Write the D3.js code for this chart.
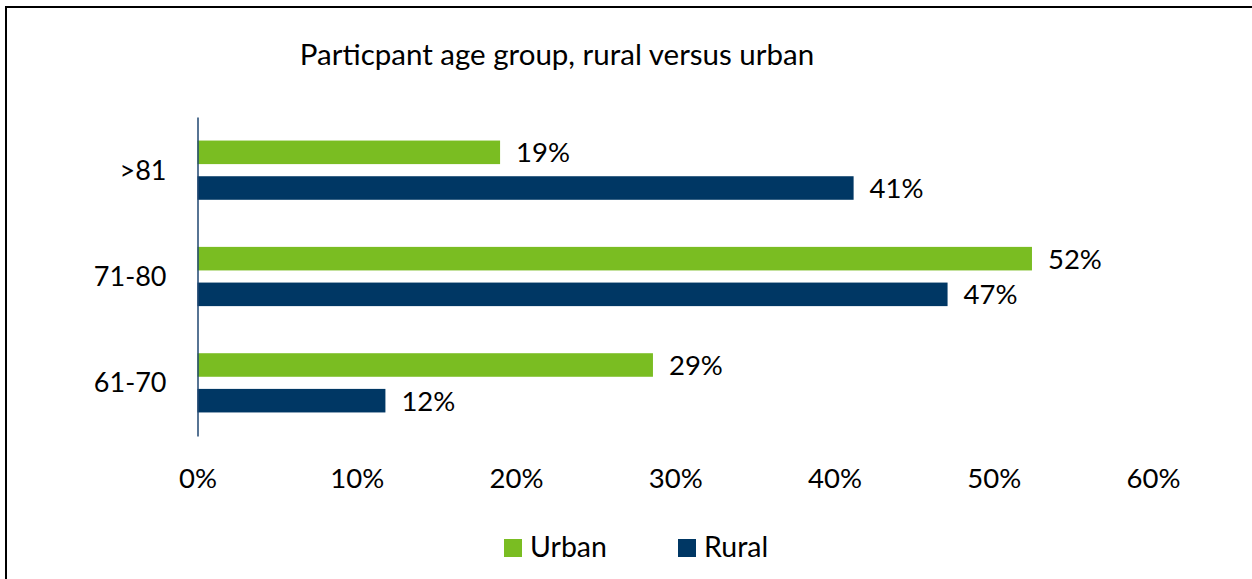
<!DOCTYPE html>
<html>
<head>
<meta charset="utf-8">
<script src="https://cdn.jsdelivr.net/npm/d3@7"></script>
<style>
  html, body { margin: 0; padding: 0; background: #fff; }
  svg { display: block; font-family: Lato, "Open Sans", sans-serif; }
</style>
</head>
<body>
<svg id="chart" width="1252" height="579"></svg>
<script>
const title = "Particpant age group, rural versus urban";
const categories = [">81", "71-80", "61-70"];
const seriesNames = ["Urban", "Rural"];
const urbanValues = [19.0, 52.4, 28.6];
const ruralValues = [41.2, 47.1, 11.8];
const xTicks = [0, 10, 20, 30, 40, 50, 60];
const colors = { Urban: "#7abd22", Rural: "#003764" };

const svg = d3.select("#chart");
const W = 1252, H = 579;

svg.append("rect").attr("width", W).attr("height", H).attr("fill", "#fff");
svg.append("rect").attr("x", 6).attr("y", 7).attr("width", 1300).attr("height", 700)
  .attr("fill", "none").attr("stroke", "#000").attr("stroke-width", 2);

const x = d3.scaleLinear().domain([0, 60]).range([197.5, 1153]);
const y = d3.scaleBand().domain(categories).range([117, 436]).paddingInner(0).paddingOuter(0);
const y1 = d3.scaleBand().domain(seriesNames).range([0, y.bandwidth()]).paddingInner(0.34).paddingOuter(0.66);

const data = categories.map((c, i) => ({
  cat: c,
  values: [
    { series: "Urban", value: urbanValues[i] },
    { series: "Rural", value: ruralValues[i] }
  ]
}));

// Title
svg.append("text").attr("x", 557).attr("y", 65)
  .attr("text-anchor", "middle").attr("font-size", 29.5).attr("fill", "#000")
  .text(title);

// Bars
const groups = svg.append("g").selectAll("g").data(data).join("g")
  .attr("transform", d => `translate(0,${y(d.cat)})`);

groups.selectAll("rect").data(d => d.values).join("rect")
  .attr("x", x(0))
  .attr("y", d => y1(d.series))
  .attr("width", d => x(d.value) - x(0))
  .attr("height", y1.bandwidth())
  .attr("fill", d => colors[d.series]);

groups.selectAll("text").data(d => d.values).join("text")
  .attr("x", d => x(d.value) + 16)
  .attr("y", d => y1(d.series) + y1.bandwidth() / 2 + 10)
  .attr("font-size", 27.5).attr("fill", "#000")
  .text(d => Math.round(d.value) + "%");

// Y axis line and labels
const yAxis = d3.axisLeft(y).tickSize(0).tickPadding(31);
const gy = svg.append("g").attr("transform", `translate(${x(0)},0)`).call(yAxis);
gy.select(".domain").attr("stroke", "#1f4670").attr("stroke-width", 1.5);
gy.selectAll("text").attr("font-size", 27).attr("fill", "#000")
  .attr("font-family", "Lato, 'Open Sans', sans-serif").attr("dy", "0.35em");

// X axis (labels only)
const xAxis = d3.axisBottom(x).tickValues(xTicks).tickSize(0).tickPadding(0)
  .tickFormat(d => d + "%");
const gx = svg.append("g").attr("transform", `translate(0,468)`).call(xAxis);
gx.select(".domain").remove();
gx.selectAll("text").attr("font-size", 27.5).attr("fill", "#000")
  .attr("font-family", "Lato, 'Open Sans', sans-serif").attr("dy", "0.71em");

// Legend
const legendX = [504, 678];
const legend = svg.append("g").selectAll("g").data(seriesNames).join("g")
  .attr("transform", (d, i) => `translate(${legendX[i]},539)`);
legend.append("rect").attr("width", 18).attr("height", 18).attr("fill", d => colors[d]);
legend.append("text").attr("x", 26).attr("y", 18).attr("font-size", 28.5).attr("fill", "#000").text(d => d);
</script>
</body>
</html>
